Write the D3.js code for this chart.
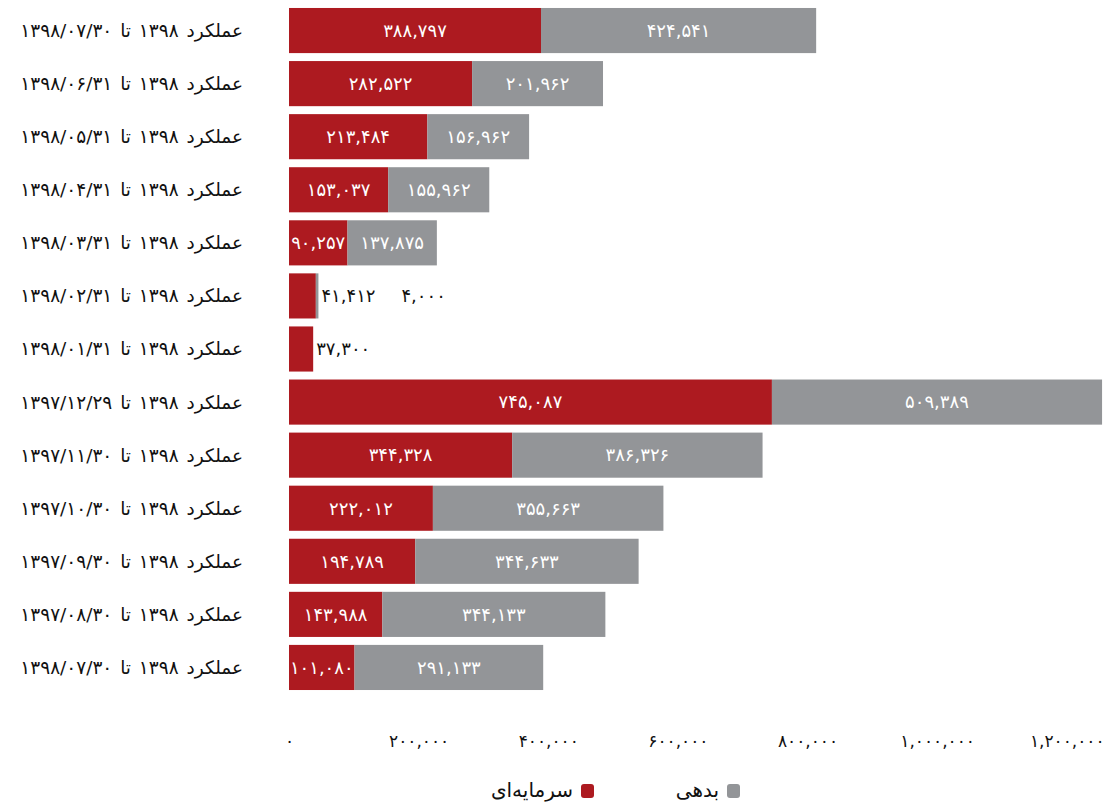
<!DOCTYPE html>
<html>
<head>
<meta charset="utf-8">
<script src="https://cdn.jsdelivr.net/npm/d3@7"></script>
<style>
  body { margin: 0; background: #fff; }
  text { font-family: "DejaVu Sans", sans-serif; }
</style>
</head>
<body>
<div id="chart"></div>
<script>
// Chart data (top row first)
const categories = [
    "عملکرد ۱۳۹۸ تا ۱۳۹۸/۰۷/۳۰",
    "عملکرد ۱۳۹۸ تا ۱۳۹۸/۰۶/۳۱",
    "عملکرد ۱۳۹۸ تا ۱۳۹۸/۰۵/۳۱",
    "عملکرد ۱۳۹۸ تا ۱۳۹۸/۰۴/۳۱",
    "عملکرد ۱۳۹۸ تا ۱۳۹۸/۰۳/۳۱",
    "عملکرد ۱۳۹۸ تا ۱۳۹۸/۰۲/۳۱",
    "عملکرد ۱۳۹۸ تا ۱۳۹۸/۰۱/۳۱",
    "عملکرد ۱۳۹۸ تا ۱۳۹۷/۱۲/۲۹",
    "عملکرد ۱۳۹۸ تا ۱۳۹۷/۱۱/۳۰",
    "عملکرد ۱۳۹۸ تا ۱۳۹۷/۱۰/۳۰",
    "عملکرد ۱۳۹۸ تا ۱۳۹۷/۰۹/۳۰",
    "عملکرد ۱۳۹۸ تا ۱۳۹۷/۰۸/۳۰",
    "عملکرد ۱۳۹۸ تا ۱۳۹۸/۰۷/۳۰"
];
const capital = [388797, 282522, 213484, 153037, 90257, 41412, 37300, 745087, 344328, 222012, 194789, 143988, 101080];
const debt = [424541, 201962, 156962, 155962, 137875, 4000, 0, 509389, 386326, 355663, 344633, 344133, 291133];
const seriesNames = ["سرمایه‌ای", "بدهی"];
const tickValues = [0, 200000, 400000, 600000, 800000, 1000000, 1200000];

const width = 1112;
const height = 803;
const colors = ["#ad1a20", "#939598"];

const faDigits = "۰۱۲۳۴۵۶۷۸۹";
const toFa = s => String(s).replace(/[0-9]/g, c => faDigits[+c]);
const fmt = v => toFa(d3.format(",")(v));

const svg = d3.select("#chart")
    .append("svg")
    .attr("width", width)
    .attr("height", height);

const x = d3.scaleLinear()
    .domain([0, 1259000])
    .range([289, 1105]);

// rows keyed by index, since first and last labels are identical
const y = d3.scaleBand()
    .domain(d3.range(categories.length))
    .range([4, 694])
    .paddingInner(0.15)
    .paddingOuter(0.075);

const rows = categories.map((c, i) => ({ i: i, cat: c, vals: [capital[i], debt[i]] }));
const stack = d3.stack().keys([0, 1]).value((d, k) => d.vals[k]);
const layers = stack(rows);

// Bars
layers.forEach((layer, k) => {
    svg.append("g")
        .selectAll("rect")
        .data(layer)
        .enter()
        .append("rect")
        .attr("x", d => x(d[0]))
        .attr("y", d => y(d.data.i))
        .attr("width", d => x(d[1]) - x(d[0]))
        .attr("height", y.bandwidth())
        .attr("fill", colors[k]);
});

// Value labels (inside when wide enough, otherwise after the bar end)
rows.forEach(r => {
    const end = x(r.vals[0] + r.vals[1]);
    let outside = 0;
    let start = 0;
    r.vals.forEach((v, k) => {
        if (v === 0) return;
        const x0 = x(start);
        const x1 = x(start + v);
        start += v;
        const cy = y(r.i) + y.bandwidth() / 2;
        const t = svg.append("text")
            .attr("y", cy)
            .attr("dy", "0.35em")
            .style("font-size", "18px")
            .text(fmt(v));
        if (x1 - x0 > 40) {
            t.attr("x", (x0 + x1) / 2)
                .attr("text-anchor", "middle")
                .attr("fill", "#fff");
        } else {
            t.attr("x", end + 3 + outside * 80)
                .attr("text-anchor", "start")
                .attr("fill", "#111");
            outside++;
        }
    });
});

// Category labels
svg.append("g")
    .selectAll("text")
    .data(rows)
    .enter()
    .append("text")
    .attr("x", 243)
    .attr("y", d => y(d.i) + y.bandwidth() / 2)
    .attr("dy", "0.35em")
    .attr("text-anchor", "end")
    .style("font-size", "18.5px")
    .style("word-spacing", "2px")
    .attr("fill", "#111")
    .text(d => d.cat);

// X axis (labels only)
const axis = svg.append("g")
    .attr("transform", "translate(0,732)")
    .call(d3.axisBottom(x).tickValues(tickValues).tickSize(0).tickFormat(fmt));
axis.select(".domain").remove();
axis.selectAll("text")
    .style("font-size", "17px")
    .style("font-family", "'DejaVu Sans', sans-serif")
    .attr("fill", "#111");

// Legend
const legend = [
    { name: seriesNames[1], color: colors[1], x: 733 },
    { name: seriesNames[0], color: colors[0], x: 587 }
];
legend.forEach(l => {
    svg.append("rect")
        .attr("x", l.x - 6)
        .attr("y", 784)
        .attr("width", 13)
        .attr("height", 14)
        .attr("rx", 3)
        .attr("fill", l.color);
    svg.append("text")
        .attr("x", l.x - 14)
        .attr("y", 790)
        .attr("dy", "0.35em")
        .attr("text-anchor", "end")
        .style("font-size", "20px")
        .attr("fill", "#111")
        .text(l.name);
});
</script>
</body>
</html>
